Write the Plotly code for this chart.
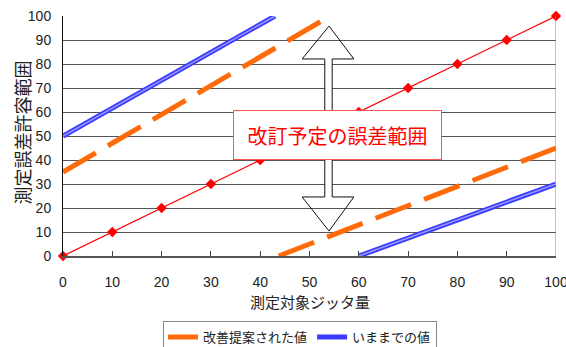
import plotly.graph_objects as go

# ---- data ----
x_ticks = [0, 10, 20, 30, 40, 50, 60, 70, 80, 90, 100]
y_ticks = [0, 10, 20, 30, 40, 50, 60, 70, 80, 90, 100]

nominal_x = [0, 10, 20, 30, 40, 50, 60, 70, 80, 90, 100]
nominal_y = [0, 10, 20, 30, 40, 50, 60, 70, 80, 90, 100]

improved_upper_x = [0, 54.2]
improved_upper_y = [35, 100]
improved_lower_x = [43.75, 100]
improved_lower_y = [0, 45]

legacy_upper_x = [0, 43]
legacy_upper_y = [50, 100]
legacy_lower_x = [60, 100]
legacy_lower_y = [0, 30]

name_improved = "改善提案された値"
name_legacy = "いままでの値"
x_title = "測定対象ジッタ量"
y_title = "測定誤差許容範囲"
box_text = "改訂予定の誤差範囲"

CJK = "Noto Sans CJK JP, Noto Sans, sans-serif"
NUM = "Liberation Sans Narrow, Arial Narrow, Liberation Sans, sans-serif"

ORANGE = "#ff6a0a"
BLUE = "#3b3bff"
BLUE_LIGHT = "#9a9aff"

fig = go.Figure()

# nominal line (red with diamonds)
fig.add_trace(go.Scatter(x=nominal_x, y=nominal_y, mode="lines+markers",
                         line=dict(color="#ff0000", width=1.2),
                         marker=dict(symbol="diamond", size=8, color="#ff0000"),
                         showlegend=False, hoverinfo="skip", cliponaxis=False))

# improved (orange dashed)
fig.add_trace(go.Scatter(x=improved_upper_x, y=improved_upper_y, mode="lines",
                         line=dict(color=ORANGE, width=5, dash="38px,14px"),
                         name=name_improved, legendgroup="imp"))
fig.add_trace(go.Scatter(x=improved_lower_x, y=improved_lower_y, mode="lines",
                         line=dict(color=ORANGE, width=5, dash="38px,14px"),
                         name=name_improved, legendgroup="imp", showlegend=False))

# legacy (blue hatched band)
fig.add_trace(go.Scatter(x=legacy_upper_x, y=legacy_upper_y, mode="lines",
                         line=dict(color=BLUE, width=5),
                         name=name_legacy, legendgroup="leg"))
fig.add_trace(go.Scatter(x=legacy_upper_x, y=legacy_upper_y, mode="lines",
                         line=dict(color=BLUE_LIGHT, width=1.5),
                         legendgroup="leg", showlegend=False, hoverinfo="skip"))
fig.add_trace(go.Scatter(x=legacy_lower_x, y=legacy_lower_y, mode="lines",
                         line=dict(color=BLUE, width=5),
                         name=name_legacy, legendgroup="leg", showlegend=False))
fig.add_trace(go.Scatter(x=legacy_lower_x, y=legacy_lower_y, mode="lines",
                         line=dict(color=BLUE_LIGHT, width=1.5),
                         legendgroup="leg", showlegend=False, hoverinfo="skip"))

# double-headed block arrow
tip_top, head_top, head_bot, tip_bot = 95.8, 82.1, 24.6, 10.4
cx, hl, hr, sl, sr = 53.96, 48.5, 59.0, 53.1, 54.6
arrow_path = (f"M {cx},{tip_top} L {hr},{head_top} L {sr},{head_top} L {sr},{head_bot} "
              f"L {hr},{head_bot} L {cx},{tip_bot} L {hl},{head_bot} L {sl},{head_bot} "
              f"L {sl},{head_top} L {hl},{head_top} Z")
fig.add_shape(type="rect", xref="x", yref="y", x0=sl, x1=sr, y0=head_bot, y1=head_top,
              fillcolor="white", line=dict(width=0), layer="between")
fig.add_shape(type="path", xref="x", yref="y", path=arrow_path,
              line=dict(color="#111111", width=1), fillcolor="rgba(0,0,0,0)", layer="above")

# right border
fig.add_shape(type="line", xref="x", yref="paper", x0=100, x1=100, y0=0, y1=1,
              line=dict(color="#888888", width=1), layer="above")

# labelled box
fig.add_annotation(x=55.7, y=50.4, xref="x", yref="y", text=box_text, showarrow=False,
                   font=dict(family=CJK, size=20, color="#ff0000"),
                   bgcolor="white", bordercolor="#ff5555", borderwidth=1, borderpad=2,
                   width=203, height=44)

# axis titles
fig.add_annotation(x=0.502, y=-0.1875, xref="paper", yref="paper", text=x_title,
                   showarrow=False, xanchor="center", yanchor="middle",
                   font=dict(family=CJK, size=15, color="#222222"))
fig.add_annotation(x=-0.084, y=0.5125, xref="paper", yref="paper", text=y_title,
                   showarrow=False, textangle=-90, xanchor="center", yanchor="middle",
                   font=dict(family=CJK, size=18, color="#222222"))

fig.update_layout(
    width=566, height=347,
    margin=dict(l=63, r=10, t=16, b=91, autoexpand=False),
    paper_bgcolor="white", plot_bgcolor="white",
    showlegend=True,
    legend=dict(orientation="h", x=0.203, y=-0.271, xanchor="left", yanchor="top",
                bordercolor="#888888", borderwidth=1, bgcolor="white",
                font=dict(family=CJK, size=13, color="#222222"),
                itemwidth=30, tracegroupgap=0),
    xaxis=dict(range=[0, 100], tickvals=x_ticks, ticks="inside", ticklen=5,
               tickcolor="#444444", showgrid=False, zeroline=False,
               showline=True, linecolor="#555555", linewidth=2,
               ticklabelstandoff=12, ticklabeloverflow="allow", automargin=False,
               tickfont=dict(family=NUM, size=14, color="#222222")),
    yaxis=dict(range=[0, 100], tickvals=y_ticks, ticks="", showgrid=True,
               gridcolor="#555555", gridwidth=1, zeroline=False,
               showline=True, linecolor="#111111", linewidth=1,
               ticklabelstandoff=8, ticklabeloverflow="allow", automargin=False,
               tickfont=dict(family=NUM, size=14, color="#222222")),
)

fig.write_html("out.html")
